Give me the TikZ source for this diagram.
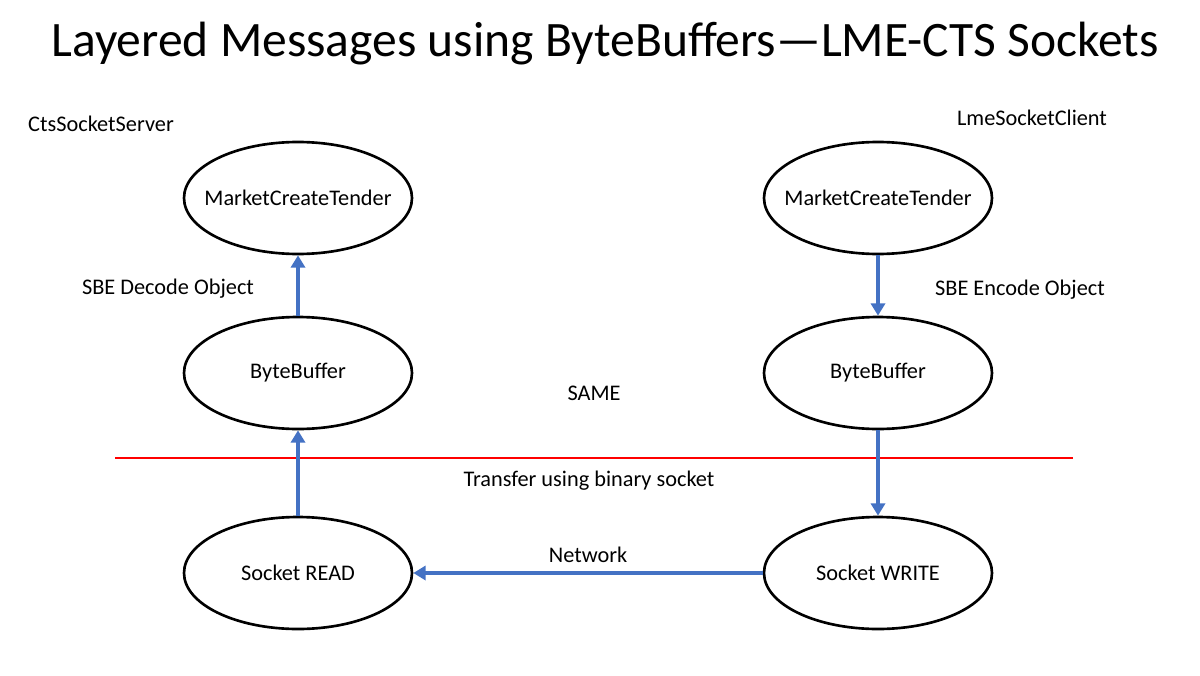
\documentclass[tikz,border=0pt]{standalone}
\usepackage{fontspec}
\setmainfont{Carlito}
\usetikzlibrary{shapes.geometric, arrows.meta}
\newcommand\eWidth{4.56cm}
\newcommand\eHeigh{2.24cm}
\definecolor{arrowblue}{HTML}{4472C4}
\tikzstyle{oval} = [ellipse, minimum width=\eWidth, minimum height=\eHeigh, inner xsep=-8pt, text centered, draw=black, line width=1.5pt, font=\fontsize{12.7}{14}\selectfont]
\tikzstyle{lbl} = [font=\fontsize{12.7}{14}\selectfont]
\tikzstyle{arrow} = [draw=arrowblue, line width=2.1pt, -{Triangle[length=7pt,width=8pt]}]

\begin{document}
\begin{tikzpicture} [node distance = 3.5cm]
\useasboundingbox (0,0) rectangle (24,13.5);
\node (title) at (12.1,12.62) [font=\fontsize{28.2}{32}\selectfont] {Layered Messages using ByteBuffers---LME-CTS Sockets};
\node (server) at (2.02,11.02) [lbl] {CtsSocketServer};
\node (client) at (20.64,11.14) [lbl] {LmeSocketClient};

\node (mct-s) at (5.96,9.54) [oval] {MarketCreateTender};
\node (bb-s) [oval, below of = mct-s] {ByteBuffer};
\node (read) [oval, below of = bb-s, yshift=-0.5cm] {Socket READ};
\node (mct-c) [oval, right of = mct-s, xshift=8.1cm] {MarketCreateTender};
\node (bb-c) [oval, below of = mct-c] {ByteBuffer};
\node (write) [oval, below of = bb-c, yshift=-0.5cm] {Socket WRITE};

\node (decode) at (3.36,7.72) [lbl] {SBE Decode Object};
\node (encode) at (20.4,7.7) [lbl] {SBE Encode Object};
\node (same) at (11.88,5.64) [lbl] {SAME};
\node (transfer) at (11.78,3.88) [lbl] {Transfer using binary socket};

\coordinate (cut-l) at (2.3,4.34);
\coordinate (cut-r) at (21.46,4.34);
\draw [red, line width=0.6pt] (cut-l) -- (cut-r);

\draw [arrow] (bb-s) -- (mct-s);
\draw [arrow] (read) -- (bb-s);
\draw [arrow] (mct-c) -- (bb-c);
\draw [arrow] (bb-c) -- (write);
\draw [arrow] (write) --node[lbl,anchor=south,yshift=0.05cm]{Network} (read);
\end{tikzpicture}
\end{document}
